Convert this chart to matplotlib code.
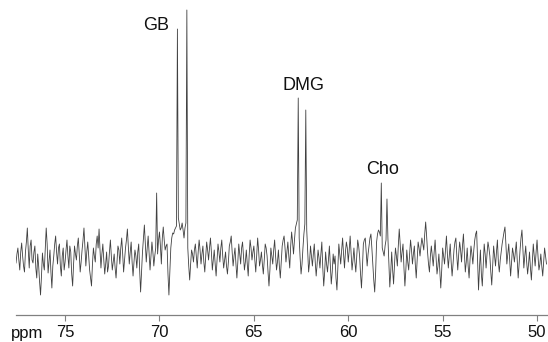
import numpy as np
import matplotlib
matplotlib.use("Agg")
import matplotlib.pyplot as plt

plt.rcParams['font.family'] = ['Liberation Sans', 'DejaVu Sans']

# baseline noise, sampled every 0.1 ppm from 77.6 ppm downwards
noise = [
    -5, 10, -12, 15, -8, 6, 30, -10, 18, -5, 12, -20, -8, -37, 5, -12, 30, -15, 8, -30,
    2, 22, -6, 14, -18, 10, -4, 18, -10, 6, -28, 12, -2, 20, -14, 8, 30, -8, 16, -12,
    -28, 10, -4, 22, 29, -10, 14, -16, 6, -8, 18, -12, 4, -20, 12, -6, 20, -14, 10, 29,
    -6, 16, -18, 8, -10, 14, -34, 6, 33, -4, 22, -12, 16, -8, 10, 4, 26, -6, 31, 8,
    14, -37, 10, 25, 28, 32, 40, 28, 35, 20, 35, 10, -22, 8, -4, 14, -10, 18, -6, 12,
    -14, 16, -2, 20, -12, 8, -18, 14, -4, 18, -10, 6, -16, 12, 22, -8, 10, -20, 14, -6,
    16, -12, 8, -18, 18, -2, 12, -14, 20, -8, 6, -16, 14, 2, -28, 10, -6, 18, -12, 8,
    -20, 12, 22, -4, 16, -10, 26, 4, 30, 38, 20, -16, 10, 34, 28, -14, 12, -8, 14, -18,
    8, -10, 16, -28, 6, -14, 12, -26, 4, 2, -32, 14, -6, 20, -10, 16, -4, 22, -12, 10,
    -14, 18, 2, -30, 14, 20, -8, 12, 24, -6, -34, 16, 28, 22, 10, 2, 18, 20, -29, 6,
    -26, 10, -8, 29, -4, 14, -28, 8, -12, 18, -6, 12, -20, 16, 2, 20, 8, 36, 6, -14,
    12, -8, 18, -16, 4, -30, 10, -6, 22, -10, 14, -18, 8, 20, -12, 16, -4, 24, -14, 10,
    -20, 12, -6, 18, 27, -32, 8, -28, 14, -10, 16, 2, -27, 12, -8, 18, -14, 6, 20, 31,
    -6, 14, -18, 10, -4, 16, -20, 8, 28, -10, 12, -16, 6, -22, 14, -8, 18, -12, 4, -18,
    10, -6,
]
# noise halfway between the samples above (77.55 ppm downwards)
noise_mid = [
    4, -2, 6, 2, -14, 16, 8, 12, -2, 6, -10, 4, -24, -18, -6, 10, 14, -4, -14, -8,
    14, 6, 10, -8, 2, -12, 8, 2, 12, -16, -6, 4, 12, 4, -4, 18, 12, 6, 2, -20,
    -6, 2, 14, 10, 8, 4, -2, -6, -14, 6, 2, -4, -10, -4, 8, 10, 4, -2, 18, 12,
    6, -4, -4, 2, 6, -12, -14, 20, 14, 10, 4, 2, 6, 2, 8, 18, 12, 20, 18, 12,
    -16, -14, 20, 24, 30, 36, 34, 30, 28, 30, 22, -8, -6, 4, 8, 2, 6, 8, 4, -4,
    2, 8, 10, 6, -2, -6, -2, 6, 10, 2, -2, -8, -4, 16, 6, 2, -6, -4, 4, 10,
    2, -4, -6, 2, 10, 6, -2, 4, 8, -2, -6, -2, 10, -14, -12, 2, 8, 2, -4, -8,
    -4, 18, 10, 6, 2, 12, 16, 18, 34, 30, 0, -6, 24, 32, 8, -4, 2, 4, -4, -6,
    0, 4, -10, -14, -6, -2, -8, -14, -6, -20, -10, 4, 8, 4, 6, 10, 8, 4, -2, -4,
    2, 12, -16, -10, 18, 6, 4, 20, 10, -22, -14, 24, 26, 16, 6, 12, 20, -6, -14, -12,
    -6, 2, 12, 14, 6, -10, -12, -4, 4, 8, 4, -6, -2, 10, 12, 14, 24, 22, -6, 2,
    2, 6, 0, -8, -14, -12, 2, 8, 4, 2, -4, -6, 16, 2, 4, 8, 12, 4, -4, -8,
    -2, 4, 8, 24, -4, -10, -16, -6, 4, 4, 10, -14, -8, 2, 6, -4, -2, 14, 26, 14,
    4, -2, -4, 4, 6, -2, -6, 20, 10, 2, -4, -6, -10, -4, 2, 6, 2, -6, -8, -4,
    2,
]
noise_start = 77.6
noise_step = 0.1

# resonances: small line, GB doublet, DMG doublet, Cho doublet
peak_ppm = [70.15, 69.05, 68.55, 62.65, 62.25, 58.25, 57.95]
peak_height = [65, 229, 248, 160, 148, 75, 59]

labels = ["GB", "DMG", "Cho"]
label_px = [(156, 25), (304, 85), (383, 169)]

ticks = [75, 70, 65, 60, 55, 50]

W, H = 548, 342
fig = plt.figure(figsize=(W / 100, H / 100), dpi=100)
ax = fig.add_axes([16 / W, 27 / H, 1 - 16 / W, 1 - 27 / H])

base_ppm = noise_start - noise_step * np.arange(len(noise))
mid_ppm = noise_start - noise_step / 2 - noise_step * np.arange(len(noise_mid))
# the peak tops take the place of the midpoints they fall on
keep = ~np.isclose(mid_ppm[:, None], np.array(peak_ppm)[None, :], atol=0.01).any(axis=1)
x = np.concatenate([base_ppm, mid_ppm[keep], peak_ppm])
y = np.concatenate([noise, np.array(noise_mid)[keep], peak_height])
order = np.argsort(-x)
ax.plot(x[order], y[order], color='#404040', lw=0.6)

ax.set_xlim(77.6, 49.42)
ax.set_ylim(-57, 258)
ax.set_xticks(ticks)
ax.set_xticklabels([str(t) for t in ticks])
ax.set_yticks([])
for s in ['top', 'left', 'right']:
    ax.spines[s].set_visible(False)
ax.spines['bottom'].set_color('#808080')
ax.spines['bottom'].set_linewidth(0.9)
ax.tick_params(axis='x', direction='out', length=4, width=0.8, color='#808080',
               pad=3.5, labelsize=12, labelcolor='#111111')

for lab, (px, py) in zip(labels, label_px):
    fig.text(px / W, 1 - py / H, lab, ha='center', va='center', fontsize=13, color='#111111')
fig.text(27 / W, 4 / H, "ppm", ha='center', va='baseline', fontsize=12, color='#111111')

fig.savefig("out.png", dpi=100)
